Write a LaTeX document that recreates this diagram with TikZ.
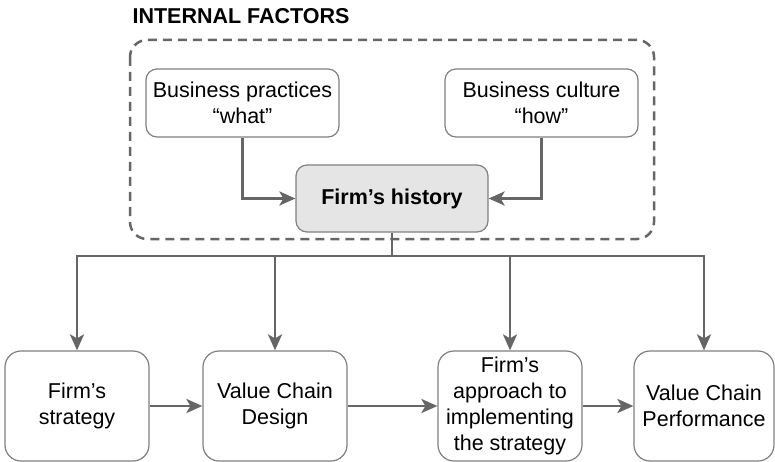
\documentclass[tikz,border=0pt]{standalone}
\usepackage{fontspec}
\setmainfont{Liberation Sans}
\usetikzlibrary{arrows.meta}

\begin{document}
\begin{tikzpicture}[%
      x=1pt, y=-1pt,
      box/.style={draw=black!50, line width=1.2pt, rounded corners=11pt,
        align=center, inner sep=0pt, font=\fontsize{21.5}{26}\selectfont},
      flow/.style={draw=black!60, line width=2.8pt,
        -{Stealth[length=16pt,width=14pt,inset=4pt]}},
      ]
      \useasboundingbox (0,0) rectangle (775,462);

      % internal factors
      \node[anchor=west, font=\fontsize{21.5}{26}\selectfont\bfseries] (title) at (129,16) {INTERNAL FACTORS};
      \draw [black!60, line width=2.5pt, dash pattern=on 9pt off 6pt, rounded corners=17pt]
        (130,40) rectangle (654,239);

      \node[box, minimum width=193pt, minimum height=68pt] (practices) at (242.5,103) {Business practices\\``what''};
      \node[box, minimum width=193pt, minimum height=68pt] (culture) at (541.5,103) {Business culture\\``how''};
      \node[box, fill=black!10, minimum width=192pt, minimum height=67pt, font=\fontsize{21.5}{26}\selectfont\bfseries] (history) at (392,198.5) {Firm’s history};

      \draw [flow] (practices.south) |- (history.west);
      \draw [flow] (culture.south) |- (history.east);

      % value chain
      \node[box, rounded corners=16pt, minimum width=144pt, minimum height=110pt] (strategy) at (77,406) {Firm’s\\strategy};
      \node[box, rounded corners=16pt, minimum width=144pt, minimum height=110pt] (design) at (275,406) {Value Chain\\Design};
      \node[box, rounded corners=16pt, minimum width=144pt, minimum height=110pt] (approach) at (510,406) {Firm’s\\approach to\\implementing\\the strategy};
      \node[box, rounded corners=16pt, minimum width=140pt, minimum height=110pt] (performance) at (704,406) {Value Chain\\Performance};

      \coordinate (split) at (392,256);
      \draw [draw=black!60, line width=2.8pt] (history.south) -- (split);
      \draw [flow] (split) -| (strategy.north);
      \draw [flow] (split) -| (design.north);
      \draw [flow] (split) -| (approach.north);
      \draw [flow] (split) -| (performance.north);

      \draw [flow] (strategy) -- (design);
      \draw [flow] (design) -- (approach);
      \draw [flow] (approach) -- (performance);
      \end{tikzpicture}
\end{document}
